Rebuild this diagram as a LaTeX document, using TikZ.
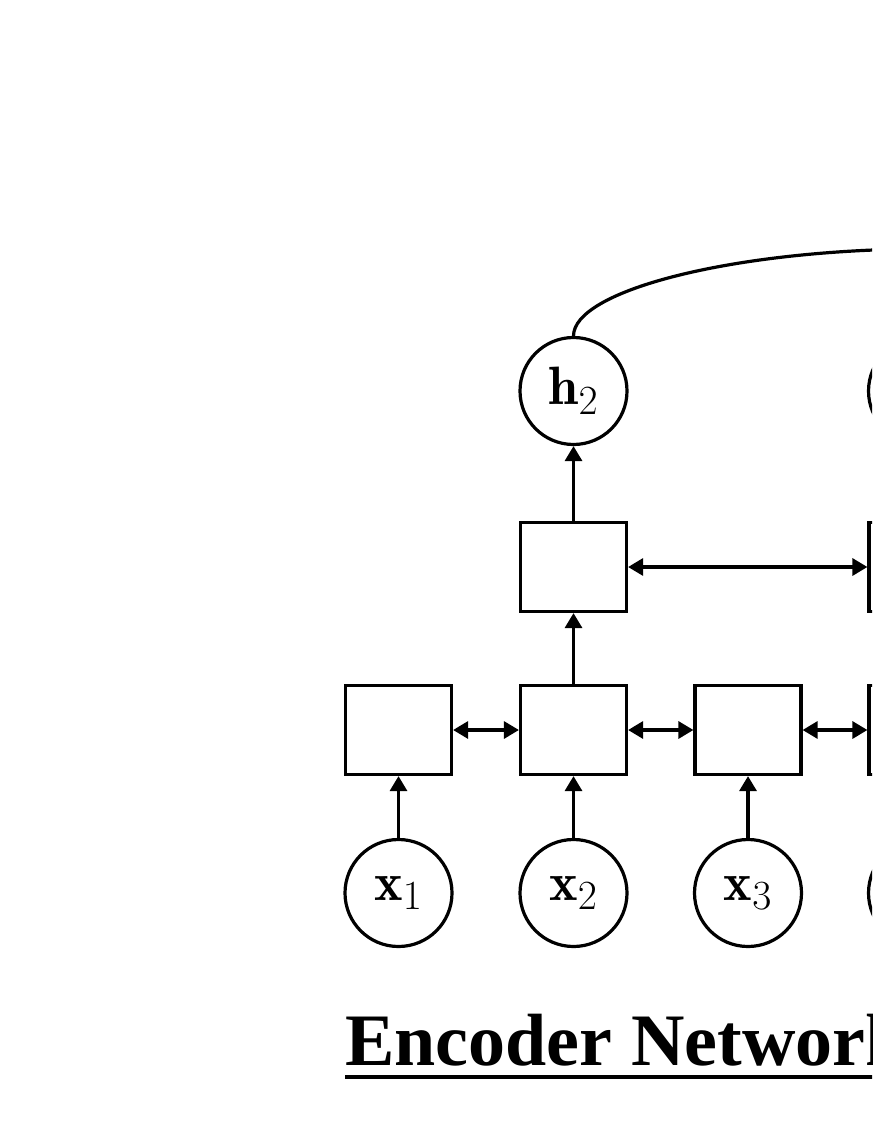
\documentclass[tikz,border=0pt]{standalone}
\usepackage{fontspec}
\newfontfamily\titlefont{Liberation Serif}
\DeclareMathSizes{27}{27}{22}{17}
\usetikzlibrary{arrows.meta}
\begin{document}
\begin{tikzpicture}[x=0.5pt,y=-0.5pt,
    cell/.style={draw, line width=1.6pt, minimum width=53pt, minimum height=44.5pt, inner sep=0pt},
    vec/.style={draw, circle, line width=1.6pt, minimum size=53.5pt, inner sep=0pt, font=\fontsize{27}{30}\selectfont},
    link/.style={line width=1.6pt, -{Triangle[length=7.5pt,width=8.5pt]}},
    bilink/.style={line width=1.6pt, {Triangle[length=7.5pt,width=8.5pt]}-{Triangle[length=7.5pt,width=8.5pt]}}]
  \useasboundingbox (0,0) rectangle (872,1128);
  \clip (0,0) rectangle (872,1128);
  % inputs and first layer
  \foreach \i/\x in {1/398.5,2/573.5,3/748}
    \node[vec] (x\i) at (\x,893) {$\mathbf{x}_{\i}$};
  \node[vec] (x4) at (922,893) {};
  \foreach \i/\x in {1/398.5,2/573.5,3/748,4/922}
    \node[cell] (b\i) at (\x,730) {};
  % second layer
  \node[cell] (u1) at (573.5,567) {};
  \node[cell] (u2) at (922,567) {};
  \node[vec] (h2) at (573.5,391) {$\mathbf{h}_{2}$};
  \node[vec] (h3) at (922,391) {};
  \foreach \i in {1,2,3}
    \draw[link] (x\i) -- (b\i);
  \foreach \i/\j in {1/2,2/3,3/4}
    \draw[bilink] (b\i) -- (b\j);
  \draw[link] (b2) -- (u1);
  \draw[link] (u1) -- (h2);
  \draw[bilink] (u1) -- (u2);
  \coordinate (apex) at (908,249);
  \draw[line width=1.6pt] (h2.north) .. controls (573.5,292) and (723,252) .. (apex);
  \node[anchor=base west, inner sep=0pt, font=\titlefont\bfseries\fontsize{37}{40}\selectfont] (title) at (345,1065) {Encoder Network};
  \draw[line width=2pt] ([yshift=-6pt]title.base west) -- ([yshift=-6pt]title.base east);
\end{tikzpicture}
\end{document}
